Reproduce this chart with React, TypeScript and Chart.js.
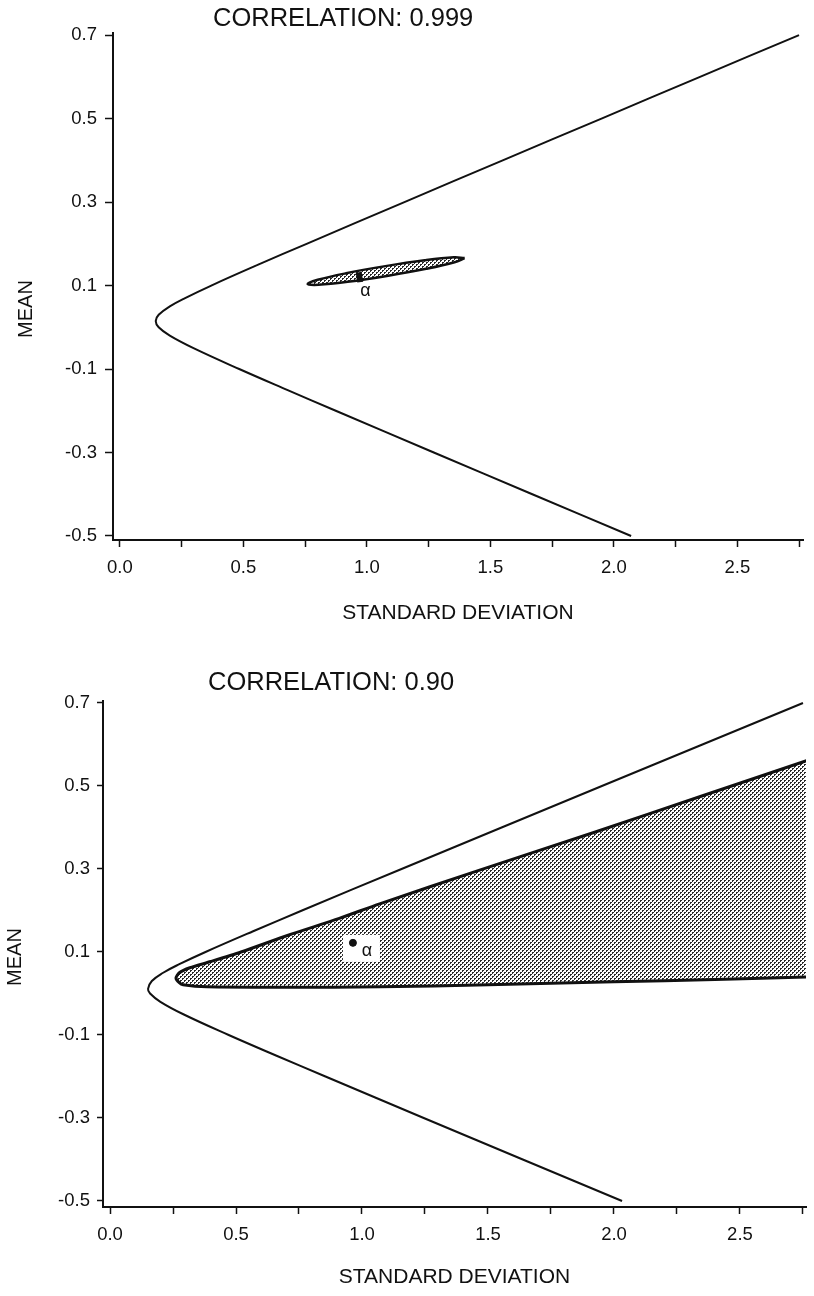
import React, { useEffect, useRef } from "react";
import { Chart, registerables } from "chart.js";

Chart.register(...registerables);

// ---------------- DATA ----------------
const xTickValues = [0, 0.25, 0.5, 0.75, 1.0, 1.25, 1.5, 1.75, 2.0, 2.25, 2.5, 2.75];
const yTickValues = [-0.5, -0.3, -0.1, 0.1, 0.3, 0.5, 0.7];
const xAxisTitle = "STANDARD DEVIATION";
const yAxisTitle = "MEAN";
const alphaLabel = "α";

// Top panel: correlation 0.999
const topTitle = "CORRELATION: 0.999";
const topFrontierSD = [2.75, 2.349, 1.95, 1.55, 1.152, 0.756, 0.56, 0.37, 0.264, 0.202, 0.157, 0.145, 0.157, 0.202, 0.298, 0.483, 0.677, 0.874, 1.271, 1.67, 2.07];
const topFrontierMean = [0.7, 0.6, 0.5, 0.4, 0.3, 0.2, 0.15, 0.1, 0.07, 0.05, 0.03, 0.015, 0.0, -0.02, -0.05, -0.1, -0.15, -0.2, -0.3, -0.4, -0.5];
const topEllipseSD = [1.396, 1.355, 1.24, 1.081, 0.922, 0.804, 0.76, 0.801, 0.916, 1.075, 1.234, 1.352, 1.396];
const topEllipseMean = [0.1657, 0.1557, 0.14, 0.1229, 0.1089, 0.1019, 0.1037, 0.1137, 0.1294, 0.1465, 0.1605, 0.1675, 0.1657];
const topAlphaSD = [0.97];
const topAlphaMean = [0.12];

// Bottom panel: correlation 0.90
const bottomTitle = "CORRELATION: 0.90";
const bottomFrontierSD = [2.75, 2.351, 1.952, 1.554, 1.157, 0.762, 0.568, 0.379, 0.273, 0.211, 0.166, 0.151, 0.159, 0.2, 0.291, 0.471, 0.661, 0.855, 1.245, 1.638, 2.032];
const bottomFrontierMean = [0.7, 0.6, 0.5, 0.4, 0.3, 0.2, 0.15, 0.1, 0.07, 0.05, 0.03, 0.011, 0.0, -0.02, -0.05, -0.1, -0.15, -0.2, -0.3, -0.4, -0.5];
const bottomRegionSD = [2.77, 2.34, 1.92, 1.47, 1.07, 0.91, 0.71, 0.52, 0.4, 0.317, 0.275, 0.262, 0.275, 0.29, 0.385, 0.7, 1.07, 1.5, 2.0, 2.4, 2.77];
const bottomRegionMean = [0.562, 0.474, 0.388, 0.298, 0.216, 0.181, 0.141, 0.1, 0.077, 0.062, 0.05, 0.037, 0.026, 0.021, 0.016, 0.015, 0.016, 0.021, 0.028, 0.034, 0.04];
const bottomAlphaSD = [0.964];
const bottomAlphaMean = [0.122];

// ---------------- STYLE ----------------
const FONT = '"Liberation Sans", Arial, Helvetica, sans-serif';
const INK = "#111111";

function pts(xs: number[], ys: number[]) {
  return xs.map((x, i) => ({ x, y: ys[i] }));
}

function makeStipple(): any {
  const c = document.createElement("canvas");
  c.width = 4;
  c.height = 4;
  const g = c.getContext("2d")!;
  g.fillStyle = "#ffffff";
  g.fillRect(0, 0, 4, 4);
  g.fillStyle = "#2a2a2a";
  g.fillRect(0, 0, 2, 1);
  g.fillRect(0, 1, 1, 1);
  g.fillRect(2, 2, 2, 1);
  g.fillRect(2, 3, 1, 1);
  return g.createPattern(c, "repeat");
}

type PanelCfg = {
  kind: "top" | "bottom";
  top: number;
  title: string;
  titleLeft: number;
  titleY: number;
  meanX: number;
  meanY: number;
  padTop: number;
  padRight: number;
  yAxisWidth: number;
  xAxisHeight: number;
  xTitlePad: number;
  xMin: number;
  xMax: number;
  yMin: number;
  yMax: number;
  yTickLen: number;
  yTickPad: number;
};

const topCfg: PanelCfg = {
  kind: "top",
  top: 0,
  title: topTitle,
  titleLeft: 213,
  titleY: 19,
  meanX: 26,
  meanY: 309,
  padTop: 33,
  padRight: 2,
  yAxisWidth: 113,
  xAxisHeight: 108,
  xTitlePad: 22,
  xMin: -0.028,
  xMax: 2.766,
  yMin: -0.5096,
  yMax: 0.705,
  yTickLen: 8,
  yTickPad: 8,
};

const bottomCfg: PanelCfg = {
  kind: "bottom",
  top: 648,
  title: bottomTitle,
  titleLeft: 208,
  titleY: 35,
  meanX: 15,
  meanY: 309,
  padTop: 53,
  padRight: 8,
  yAxisWidth: 103,
  xAxisHeight: 89,
  xTitlePad: 6,
  xMin: -0.0278,
  xMax: 2.762,
  yMin: -0.5145,
  yMax: 0.7048,
  yTickLen: 6,
  yTickPad: 7,
};

function Panel({ cfg }: { cfg: PanelCfg }) {
  const ref = useRef<HTMLCanvasElement>(null);

  useEffect(() => {
    const canvas = ref.current;
    if (!canvas) return;
    const stipple = makeStipple();
    const isTop = cfg.kind === "top";

    const alphaData = isTop ? pts(topAlphaSD, topAlphaMean) : pts(bottomAlphaSD, bottomAlphaMean);
    const frontier = isTop ? pts(topFrontierSD, topFrontierMean) : pts(bottomFrontierSD, bottomFrontierMean);
    const region = isTop ? pts(topEllipseSD, topEllipseMean) : pts(bottomRegionSD, bottomRegionMean);

    const textPlugin = {
      id: "panelTexts",
      afterDatasetDraw(chart: any, args: any) {
        if (!isTop && args.index === 2) {
          const ctx = chart.ctx;
          const px = chart.scales.x.getPixelForValue(bottomAlphaSD[0]);
          const py = chart.scales.y.getPixelForValue(bottomAlphaMean[0]);
          ctx.save();
          ctx.fillStyle = "#ffffff";
          ctx.fillRect(px - 10, py - 8, 37, 27);
          ctx.restore();
        }
      },
      afterDraw(chart: any) {
        const ctx = chart.ctx;
        ctx.save();
        ctx.fillStyle = INK;
        ctx.font = `25.5px ${FONT}`;
        ctx.textAlign = "left";
        ctx.textBaseline = "middle";
        ctx.fillText(cfg.title, cfg.titleLeft, cfg.titleY);
        ctx.save();
        ctx.translate(cfg.meanX, cfg.meanY);
        ctx.rotate(-Math.PI / 2);
        ctx.font = `20px ${FONT}`;
        ctx.textAlign = "center";
        ctx.textBaseline = "middle";
        ctx.fillText(yAxisTitle, 0, 0);
        ctx.restore();
        const ax = isTop ? topAlphaSD[0] : bottomAlphaSD[0];
        const ay = isTop ? topAlphaMean[0] : bottomAlphaMean[0];
        const px = chart.scales.x.getPixelForValue(ax);
        const py = chart.scales.y.getPixelForValue(ay);
        ctx.font = `18px ${FONT}`;
        ctx.textAlign = "center";
        ctx.textBaseline = "middle";
        if (isTop) ctx.fillText(alphaLabel, px + 6, py + 14);
        else ctx.fillText(alphaLabel, px + 14, py + 8);
        ctx.restore();
      },
    };

    const chart = new Chart(canvas, {
      type: "line",
      data: {
        datasets: [
          {
            data: alphaData,
            showLine: false,
            pointRadius: isTop ? 5 : 3.5,
            pointStyle: isTop ? "line" : "circle",
            pointRotation: isTop ? 81 : 0,
            pointBorderWidth: isTop ? 6 : 1,
            pointBackgroundColor: INK,
            pointBorderColor: INK,
            borderColor: INK,
            backgroundColor: INK,
          } as any,
          {
            data: frontier,
            borderColor: INK,
            borderWidth: 2,
            pointRadius: 0,
            tension: 0.4,
            fill: false,
          },
          {
            data: region,
            borderColor: INK,
            borderWidth: isTop ? 2.5 : 3,
            backgroundColor: stipple,
            pointRadius: 0,
            tension: isTop ? 0.4 : 0.25,
            fill: "shape",
          } as any,
        ],
      },
      options: {
        responsive: false,
        animation: false,
        events: [],
        layout: { padding: { left: 0, right: cfg.padRight, top: cfg.padTop, bottom: 0 } },
        plugins: {
          legend: { display: false },
          tooltip: { enabled: false },
          title: { display: false },
        },
        scales: {
          x: {
            type: "linear",
            min: cfg.xMin,
            max: cfg.xMax,
            afterBuildTicks: (s: any) => {
              s.ticks = xTickValues.map((v) => ({ value: v }));
            },
            afterFit: (s: any) => {
              s.height = cfg.xAxisHeight;
            },
            grid: {
              display: true,
              drawOnChartArea: false,
              drawTicks: true,
              tickLength: 7,
              tickWidth: 1.5,
              tickColor: INK,
            },
            border: { display: true, color: INK, width: 2 },
            ticks: {
              autoSkip: false,
              maxRotation: 0,
              minRotation: 0,
              padding: 10,
              color: INK,
              font: { family: FONT, size: 18.5 },
              callback: (v: any) => {
                const n = Number(v);
                return Math.abs(n * 2 - Math.round(n * 2)) < 1e-6 ? n.toFixed(1) : "";
              },
            },
            title: {
              display: true,
              text: xAxisTitle,
              color: INK,
              font: { family: FONT, size: 21 },
              padding: { top: 0, bottom: cfg.xTitlePad },
            },
          },
          y: {
            type: "linear",
            min: cfg.yMin,
            max: cfg.yMax,
            afterBuildTicks: (s: any) => {
              s.ticks = yTickValues.map((v) => ({ value: v }));
            },
            afterFit: (s: any) => {
              s.width = cfg.yAxisWidth;
            },
            grid: {
              display: true,
              drawOnChartArea: false,
              drawTicks: true,
              tickLength: cfg.yTickLen,
              tickWidth: 1.5,
              tickColor: INK,
            },
            border: { display: true, color: INK, width: 2 },
            ticks: {
              autoSkip: false,
              padding: cfg.yTickPad,
              color: INK,
              font: { family: FONT, size: 18.5 },
              callback: (v: any) => Number(v).toFixed(1),
            },
          },
        },
      } as any,
      plugins: [textPlugin],
    });

    return () => chart.destroy();
  }, [cfg]);

  return (
    <div style={{ position: "absolute", left: 0, top: cfg.top, width: 814, height: 648 }}>
      <canvas ref={ref} width={814} height={648} style={{ display: "block", width: 814, height: 648 }} />
    </div>
  );
}

export default function App() {
  return (
    <div style={{ position: "absolute", left: 0, top: 0, width: 814, height: 1296, background: "#ffffff" }}>
      <Panel cfg={topCfg} />
      <Panel cfg={bottomCfg} />
    </div>
  );
}
